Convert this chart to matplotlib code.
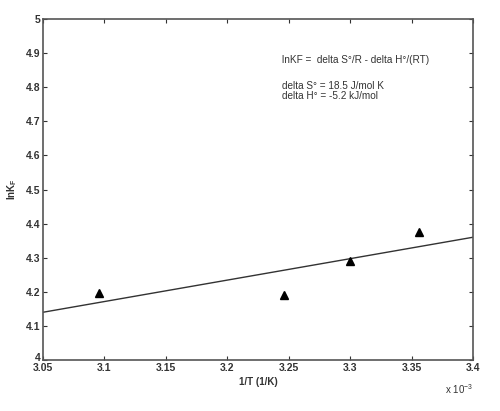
import matplotlib.pyplot as plt
import matplotlib.transforms as mtransforms

plt.rcParams['font.family'] = ['Liberation Sans', 'DejaVu Sans']

# data (x in units of 1e-3 1/K)
inv_T = [3.0956, 3.2464, 3.2999, 3.3558]
ln_kf = [4.197, 4.192, 4.290, 4.376]
fit_x = [3.05, 3.40]
fit_y = [4.140, 4.360]

xticks = [3.05, 3.1, 3.15, 3.2, 3.25, 3.3, 3.35, 3.4]
xlabels = ['3.05', '3.1', '3.15', '3.2', '3.25', '3.3', '3.35', '3.4']
yticks = [4, 4.1, 4.2, 4.3, 4.4, 4.5, 4.6, 4.7, 4.8, 4.9, 5]
ylabels = ['4', '4.1', '4.2', '4.3', '4.4', '4.5', '4.6', '4.7', '4.8', '4.9', '5']

fig = plt.figure(figsize=(5, 4.11), dpi=100)
ax = fig.add_axes([43/500, 1 - 360/411, 430/500, 341/411])

ax.plot(fit_x, fit_y, '-', color='#333333', linewidth=1.0)
ax.plot(inv_T, ln_kf, '^', color='black', markersize=5.5)

ax.set_xlim(3.05, 3.4)
ax.set_ylim(4, 5)
ax.set_xticks(xticks)
ax.set_xticklabels(xlabels)
ax.set_yticks(yticks)
ax.set_yticklabels(ylabels)
ax.tick_params(direction='in', top=True, right=True, length=3, width=0.8,
               labelsize=7.5, colors='#333333', pad=2)
for lab in ax.get_xticklabels() + ax.get_yticklabels():
    lab.set_fontweight('bold')
for s in ax.spines.values():
    s.set_color('#555555')
    s.set_linewidth(1.2)

# the "4" label sits just above the "3.05" label, as in the original
lab0 = ax.get_yticklabels()[0]
lab0.set_transform(lab0.get_transform() +
                   mtransforms.ScaledTranslation(0, 3/100, fig.dpi_scale_trans))

ax.set_xlabel('1/T (1/K)', fontsize=7, fontweight='bold', color='#333333', labelpad=3)
ax.set_ylabel('lnK$_\\mathregular{F}$', fontsize=7, fontweight='bold', color='#333333', labelpad=5)

ax.text(1.0, -0.065, 'x 10$^\\mathregular{-3}$', transform=ax.transAxes, ha='right', va='top',
        fontsize=7, color='#333333')

ax.text(3.2445, 4.880, 'lnKF =  delta S°/R - delta H°/(RT)', fontsize=7.2, color='#333333', va='center')
ax.text(3.2445, 4.8035, 'delta S° = 18.5 J/mol K', fontsize=7.2, color='#333333', va='center')
ax.text(3.2445, 4.773, 'delta H° = -5.2 kJ/mol', fontsize=7.2, color='#333333', va='center')

plt.savefig('out.png', dpi=100)
